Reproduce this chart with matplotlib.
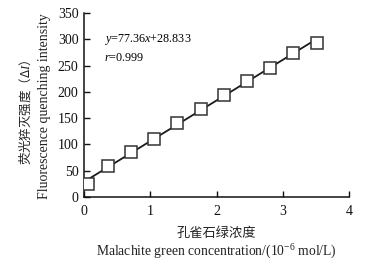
import numpy as np
import matplotlib
matplotlib.use('Agg')
import matplotlib.pyplot as plt

# concentration (10^-6 mol/L) and quenching intensity
conc = [0.06, 0.36, 0.71, 1.06, 1.41, 1.76, 2.11, 2.46, 2.81, 3.16, 3.51]
dI = [25, 59, 86, 110, 141, 167, 194, 221, 246, 274, 292]
slope = 77.36
intercept = 28.833
r_value = 0.999
x_ticks = [0, 1, 2, 3, 4]
y_ticks = [0, 50, 100, 150, 200, 250, 300, 350]

SERIF = ['Liberation Serif', 'DejaVu Serif']
CJK = ['Noto Sans CJK SC', 'Liberation Serif', 'DejaVu Sans']

plt.rcParams['font.family'] = SERIF
plt.rcParams['mathtext.fontset'] = 'custom'
plt.rcParams['mathtext.rm'] = 'Liberation Serif'
plt.rcParams['mathtext.it'] = 'Liberation Serif:italic'

fig = plt.figure(figsize=(3.7, 2.68), dpi=100)
ax = fig.add_axes([84 / 370, 1 - 197 / 268, (349 - 84) / 370, (197 - 13) / 268])

xfit = np.array([conc[0], conc[-1]])
ax.plot(xfit, slope * xfit + intercept, color='#1a1a1a', lw=1.3, zorder=2)
ax.plot(conc, dI, ls='none', marker='s', ms=9, mfc='white', mec='#333333',
        mew=1.1, zorder=3)

ax.set_xlim(0, 4)
ax.set_ylim(0, 350)
ax.set_xticks(x_ticks)
ax.set_yticks(y_ticks)
ax.tick_params(direction='in', length=4, width=1, labelsize=10, colors='#111111')
ax.tick_params(axis='x', pad=6)
ax.tick_params(axis='y', pad=4)
for s in ['top', 'right']:
    ax.spines[s].set_visible(False)
for s in ['left', 'bottom']:
    ax.spines[s].set_linewidth(1.1)
    ax.spines[s].set_color('#111111')

ax.text(0.3, 299, '$y$=%.2f$x$+%.3f' % (slope, intercept), fontsize=8.7, va='center')
ax.text(0.3, 264, '$r$=%.3f' % r_value, fontsize=8.7, va='center')

fig.text(25 / 370, 1 - 112 / 268, '荧光猝灭强度（Δ$\\it{I}$）', family=CJK, fontsize=9,
         rotation=90, ha='center', va='center', color='#222222')
fig.text(45 / 370, 1 - 106 / 268, 'Fluorescence quenching intensity', fontsize=10,
         rotation=90, ha='center', va='center', color='#222222')
fig.text(216 / 370, 1 - 233 / 268, '孔雀石绿浓度', family=CJK, fontsize=9.5,
         ha='center', va='center', color='#222222')
fig.text(216 / 370, 1 - 252 / 268, 'Malachite green concentration/(10$^{-6}$ mol/L)',
         fontsize=9.8, ha='center', va='center', color='#222222')

fig.savefig('out.png', dpi=100)
